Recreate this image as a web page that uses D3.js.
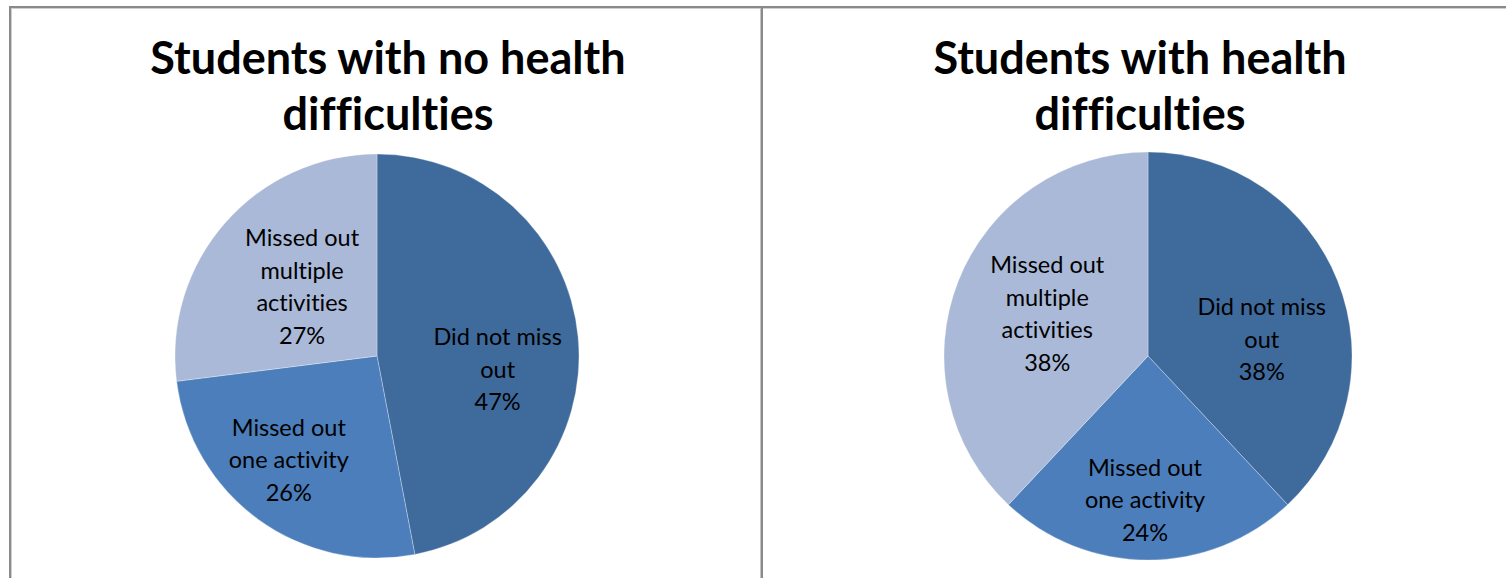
<!DOCTYPE html>
<html>
<head>
<meta charset="utf-8">
<script src="https://cdn.jsdelivr.net/npm/d3@7"></script>
<style>
  html, body { margin: 0; padding: 0; background: #fff; }
  svg { display: block; }
  svg text { font-variant-ligatures: none; font-feature-settings: "liga" 0, "clig" 0; }
</style>
</head>
<body>
<svg id="chart" width="1506" height="578"></svg>
<script>
// Response categories, in drawing order (clockwise from 12 o'clock)
const categories = ["Did not miss out", "Missed out one activity", "Missed out multiple activities"];
const categoryLines = [["Did not miss", "out"], ["Missed out", "one activity"], ["Missed out", "multiple", "activities"]];

// Percentages for each group
const noHealthValues = [47, 26, 27];
const healthValues = [38, 24, 38];

// Chart titles, already split into lines
const noHealthTitle = ["Students with no health", "difficulties"];
const healthTitle = ["Students with health", "difficulties"];

// Styling
const sliceColors = ["#3f6a9c", "#4b7ebb", "#aab9d7"];
const labelFont = "Lato, 'Open Sans', sans-serif";
const titleFont = "Lato, 'Open Sans', sans-serif";

const svg = d3.select("#chart");

// Panel frame lines
svg.append("rect").attr("x", 9).attr("y", 6).attr("width", 1497).attr("height", 2).attr("fill", "#8a8a8a");
svg.append("rect").attr("x", 9).attr("y", 8).attr("width", 1497).attr("height", 1).attr("fill", "#cfcfcf");
svg.append("rect").attr("x", 9).attr("y", 6).attr("width", 2).attr("height", 572).attr("fill", "#8a8a8a");
svg.append("rect").attr("x", 11).attr("y", 8).attr("width", 1).attr("height", 570).attr("fill", "#cfcfcf");
svg.append("rect").attr("x", 760).attr("y", 8).attr("width", 1).attr("height", 570).attr("fill", "#c4c4c4");
svg.append("rect").attr("x", 761).attr("y", 6).attr("width", 2).attr("height", 572).attr("fill", "#8a8a8a");

const pie = d3.pie().sort(null).value(d => d);

function drawPanel(opts) {
  const g = svg.append("g");

  // Title
  const title = g.append("text")
    .attr("text-anchor", "middle")
    .attr("font-family", titleFont)
    .attr("font-weight", 700)
    .attr("font-size", 45)
    .attr("fill", "#000");
  opts.title.forEach((line, i) => {
    title.append("tspan")
      .attr("x", opts.titleX)
      .attr("y", opts.titleY + i * 56)
      .text(line);
  });

  const arc = d3.arc().innerRadius(0).outerRadius(opts.r);
  const labelArc = d3.arc().innerRadius(opts.r * 0.6).outerRadius(opts.r * 0.6);

  const arcs = pie(opts.values);
  const pg = g.append("g").attr("transform", `translate(${opts.cx},${opts.cy})`);

  pg.selectAll("path.slice")
    .data(arcs)
    .join("path")
    .attr("class", "slice")
    .attr("d", arc)
    .attr("fill", (d, i) => sliceColors[i])
    .attr("stroke", "rgba(255,255,255,0.3)")
    .attr("stroke-width", 1);

  const lineH = 32.5;
  const capH = 16;
  pg.selectAll("text.lbl")
    .data(arcs)
    .join("text")
    .attr("class", "lbl")
    .attr("text-anchor", "middle")
    .attr("font-family", labelFont)
    .attr("font-size", 23.5)
    .attr("fill", "#000")
    .each(function(d, i) {
      const [cx, cy] = labelArc.centroid(d);
      const [nx, ny] = opts.nudges[i];
      const lines = categoryLines[i].concat([d3.format(".0f")(d.value) + "%"]);
      const n = lines.length;
      const firstBase = cy + ny - ((n - 1) * lineH) / 2 + capH / 2;
      const t = d3.select(this);
      lines.forEach((ln, j) => {
        t.append("tspan")
          .attr("x", cx + nx)
          .attr("y", firstBase + j * lineH)
          .text(ln);
      });
    });
}

drawPanel({
  title: noHealthTitle, titleX: 388, titleY: 74,
  values: noHealthValues, cx: 377, cy: 356, r: 202,
  nudges: [[0, 25], [-17, 6], [16, 11]]
});

drawPanel({
  title: healthTitle, titleX: 1140, titleY: 74,
  values: healthValues, cx: 1148, cy: 356, r: 204,
  nudges: [[0, 29], [-3, 22], [13, 3]]
});
</script>
</body>
</html>
